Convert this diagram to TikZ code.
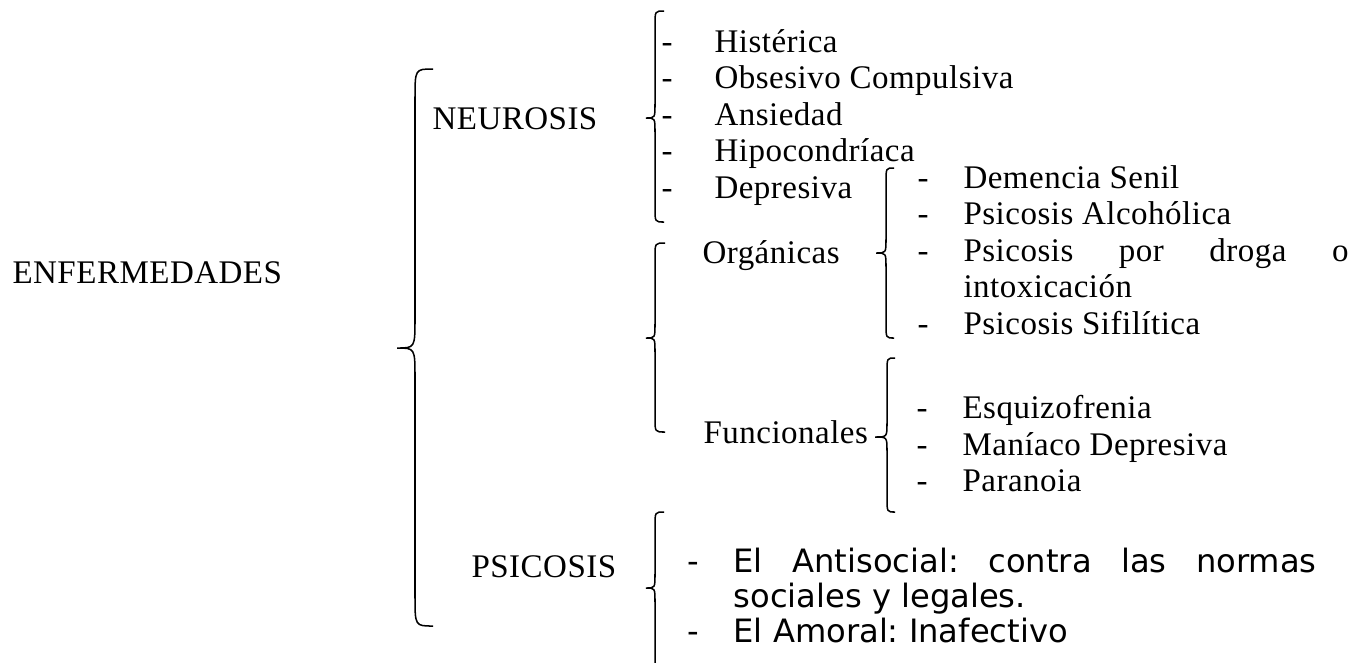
\documentclass[tikz,border=0pt]{standalone}
\usepackage{fontspec}
\setmainfont[LetterSpace=1.5]{Liberation Serif}
\newfontfamily\itemsans{DejaVu Sans}
\frenchspacing
% brace: tip x, stem x, end x, top y, tip y, bottom y, curl
\newcommand{\drawbrace}[7]{%
  \draw[brace line] (#3,#4) .. controls (#2,#4) .. (#2,{#4+#7})
    -- (#2,{#5-#7}) .. controls (#2,#5) .. (#1,#5)
    .. controls (#2,#5) .. (#2,{#5+#7})
    -- (#2,{#6-#7}) .. controls (#2,#6) .. (#3,#6);}
\begin{document}
\begin{tikzpicture}[x=0.3636pt,y=-0.3636pt,
    brace line/.style={line width=0.55pt},
    txt/.style={anchor=base west,inner sep=0pt,font=\fontsize{12}{14}\selectfont},
    sanstxt/.style={anchor=base west,inner sep=0pt,font=\itemsans\fontsize{11.7}{14}\selectfont}]
  \useasboundingbox (0,0) rectangle (1368,662);
  \clip (0,0) rectangle (1368,662);
  \draw
    (12,283) node[txt] (enf){ENFERMEDADES}
    (432,129) node[txt] (neu){NEUROSIS}
    (702,263) node[txt] (org){Orgánicas}
    (703,443) node[txt] (fun){Funcionales}
    (471,577) node[txt] (psi){PSICOSIS};
  % neurosis
  \draw
    (661,52) node[txt] (d1){-}    (714,52) node[txt] (hist){Histérica}
    (661,88.5) node[txt] (d2){-}  (714,88.5) node[txt] (obs){Obsesivo Compulsiva}
    (661,125) node[txt] (d3){-}   (714,125) node[txt] (ans){Ansiedad}
    (661,161.5) node[txt] (d4){-} (714,161.5) node[txt] (hip){Hipocondríaca}
    (661,198) node[txt] (d5){-}   (714,198) node[txt] (dep){Depresiva};
  % organicas
  \draw
    (917,188) node[txt] (o1){-}   (963,188) node[txt] (dem){Demencia Senil}
    (917,224.5) node[txt] (o2){-} (963,224.5) node[txt] (alc){Psicosis Alcohólica}
    (917,261) node[txt] (o3){-}   (963,261) node[txt] (dro){\makebox[140pt][s]{Psicosis por droga o}}
    (963,297.5) node[txt] (int){intoxicación}
    (917,334) node[txt] (o4){-}   (963,334) node[txt] (sif){Psicosis Sifilítica};
  % funcionales
  \draw
    (916,418) node[txt] (f1){-} (962,418) node[txt] (esq){Esquizofrenia}
    (916,455) node[txt] (f2){-} (962,455) node[txt] (man){Maníaco Depresiva}
    (916,491) node[txt] (f3){-} (962,491) node[txt] (par){Paranoia};
  % psicosis
  \draw
    (687,572) node[sanstxt] (p1){-} (733,572) node[sanstxt] (anti){\makebox[212pt][s]{El Antisocial: contra las normas}}
    (733,607) node[sanstxt] (soc){sociales y legales.}
    (687,642) node[sanstxt] (p2){-} (733,642) node[sanstxt] (amo){El Amoral: Inafectivo};
  \drawbrace{397}{415}{433}{69}{348}{626}{30}
  \drawbrace{646}{655}{664}{11}{118}{222}{14}
  \drawbrace{646}{655}{665}{243}{338}{432}{14}
  \drawbrace{876}{886}{894}{168}{253}{338}{14}
  \drawbrace{875}{887}{895}{358}{437}{512}{14}
  \drawbrace{646}{655}{664}{512}{588}{668}{14}
\end{tikzpicture}
\end{document}
